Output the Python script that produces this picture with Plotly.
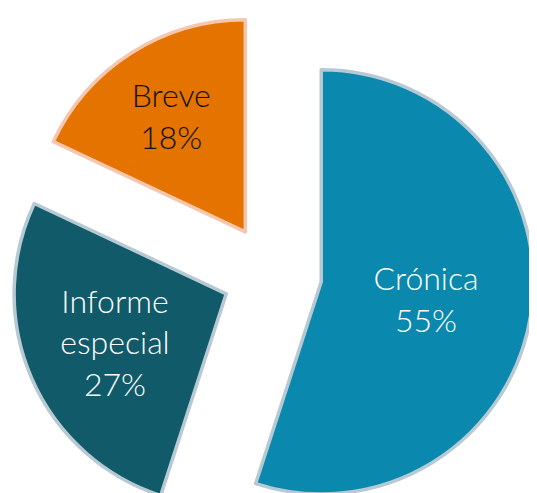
import plotly.graph_objects as go

labels = ["Crónica", "Informe especial", "Breve"]
display_text = ["Crónica", "Informe<br>especial", "Breve"]
values = [55, 27, 18]
colors = ["#0a88ad", "#105a69", "#e47300"]
line_colors = ["#b7c9d3", "#b7c9d3", "#f6c6ae"]
text_colors = ["#ffffff", "#ffffff", "#111111"]

W, H = 537, 548
fig = go.Figure(go.Pie(
    labels=labels,
    values=values,
    text=display_text,
    texttemplate="%{text}<br>%{percent:.0%}",
    textposition="inside",
    insidetextorientation="horizontal",
    insidetextfont=dict(color=text_colors, size=32, family="Lato", weight=300),
    sort=False,
    direction="clockwise",
    rotation=0,
    pull=[0.235, 0.235, 0.235],
    marker=dict(colors=colors, line=dict(color=line_colors, width=3.5)),
    domain=dict(x=[2 / W, 526 / W], y=[20 / H, 544 / H]),
    showlegend=False,
    hoverinfo="label+percent",
))
fig.update_layout(
    width=W, height=H,
    margin=dict(l=0, r=0, t=0, b=0),
    paper_bgcolor="white",
    plot_bgcolor="white",
    uniformtext=dict(minsize=32, mode="show"),
)
fig.write_html("out.html")
